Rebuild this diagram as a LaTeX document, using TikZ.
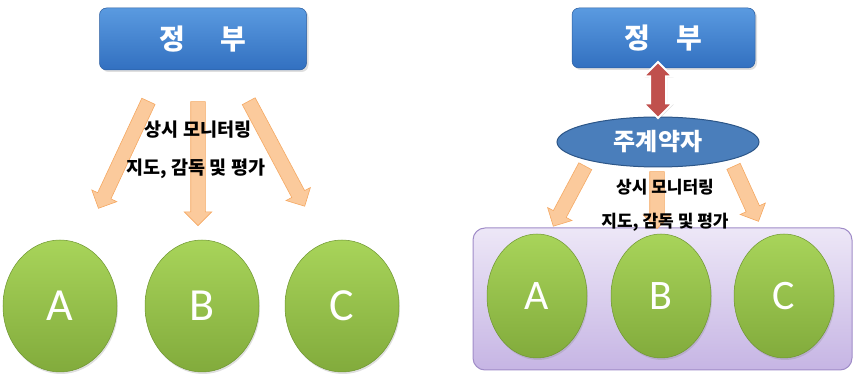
\documentclass[tikz,border=0pt]{standalone}
\usepackage{fontspec}
\newfontfamily\kr{Noto Sans CJK KR}
\newfontfamily\lat{Carlito}
\usetikzlibrary{shapes.arrows,shapes.geometric,shadows,calc}
\definecolor{blueT}{HTML}{5A9AE0}
\definecolor{blueB}{HTML}{3270C0}
\definecolor{blueD}{HTML}{2A5C9E}
\definecolor{ellF}{HTML}{4A7EBB}
\definecolor{ellD}{HTML}{2C5688}
\definecolor{gT}{HTML}{A8D45A}
\definecolor{gB}{HTML}{82AB3C}
\definecolor{gD}{HTML}{6E9630}
\definecolor{peachM}{HTML}{FBCA9C}
\definecolor{peachE}{HTML}{F5A862}
\definecolor{redA}{HTML}{C0504D}
\definecolor{purT}{HTML}{EDE7F7}
\definecolor{purB}{HTML}{C6B5E4}
\definecolor{purD}{HTML}{A08CC8}
\begin{document}
\begin{tikzpicture}[x=1pt,y=1pt,
  gov/.style={rectangle, rounded corners=7pt, minimum width=207pt, minimum height=62pt,
    top color=blueT, bottom color=blueB, draw=blueD, line width=0.5pt,
    drop shadow={opacity=0.25, shadow xshift=2pt, shadow yshift=-2pt},
    text=white, font=\kr\bfseries\fontsize{28}{30}\selectfont},
  ctr/.style={ellipse, minimum width=202pt, minimum height=50pt, inner sep=0pt,
    fill=ellF, draw=ellD, line width=1pt,
    text=white, font=\kr\bfseries\fontsize{24}{26}\selectfont},
  ball/.style={ellipse, minimum width=114pt, minimum height=132pt, inner sep=0pt,
    top color=gT, bottom color=gB, draw=gD, line width=0.5pt,
    drop shadow={opacity=0.25, shadow xshift=1pt, shadow yshift=-2pt},
    text=white, font=\lat\fontsize{46}{48}\selectfont},
  smallball/.style={ball, minimum width=100pt, minimum height=124pt,
    font=\lat\fontsize{42}{44}\selectfont},
  fatarr/.style={single arrow, single arrow head extend=6.5pt,
    inner xsep=0pt, inner ysep=7pt, fill=peachM, draw=peachE,
    line width=0.6pt, sloped, allow upside down, anchor=center},
  lbl/.style={font=\kr\bfseries\fontsize{18.5}{20}\selectfont, text=black, inner sep=0pt},
  rlbl/.style={font=\kr\bfseries\fontsize{17}{19}\selectfont, text=black, inner sep=0pt},
  dbl/.style={double arrow, double arrow head extend=6.5pt,
    minimum height=56pt, inner xsep=0pt, inner ysep=7pt, rotate=90, fill=redA, draw=white,
    line width=2pt, drop shadow={opacity=0.3, shadow xshift=1pt, shadow yshift=-1pt}},
  grp/.style={rectangle, rounded corners=12pt, top color=purT, bottom color=purB,
    draw=purD, line width=1pt, minimum width=379pt, minimum height=142pt}
]
\useasboundingbox (0,0) rectangle (855,375);

% ---------- left diagram ----------
\node[gov] (gov1) at (203,336) {정\hspace{36pt}부};

\node[ball] (A1) at (60,69) {A};
\node[ball] (B1) at (202,69) {B};
\node[ball] (C1) at (342,69) {C};

\coordinate (a1s) at (150,277); \coordinate (a1e) at (100,170);
\coordinate (a2s) at (198,277); \coordinate (a2e) at (198,153);
\coordinate (a3s) at (247,277); \coordinate (a3e) at (303,172);
\foreach \s/\e in {a1s/a1e,a2s/a2e,a3s/a3e}{
  \path let \p1=($(\e)-(\s)$), \n1={veclen(\x1,\y1)} in
    (\s) -- node[fatarr, minimum height=\n1] {} (\e);
}
\node[lbl] (l1a) at (198,245) {상시 모니터링};
\node[lbl] (l1b) at (196,206) {지도, 감독 및 평가};

% ---------- right diagram ----------
\node[grp] (grp) at (662.5,76) {};
\node[smallball] (A2) at (537,79) {A};
\node[smallball] (B2) at (661,79) {B};
\node[smallball] (C2) at (784,79) {C};

\coordinate (b1s) at (587,212); \coordinate (b1e) at (555,152);
\coordinate (b2s) at (657,207); \coordinate (b2e) at (657,150);
\coordinate (b3s) at (732,212); \coordinate (b3e) at (757,157);
\foreach \s/\e in {b1s/b1e,b2s/b2e,b3s/b3e}{
  \path let \p1=($(\e)-(\s)$), \n1={veclen(\x1,\y1)} in
    (\s) -- node[fatarr, minimum height=\n1] {} (\e);
}

\node[gov, minimum width=183pt, minimum height=60pt] (gov2) at (663.5,337) {정\hspace{26pt}부};
\node[ctr] (mc) at (658,233) {주계약자};
\node[dbl] (link) at (658,285) {};

\node[rlbl] (l2a) at (665,188) {상시 모니터링};
\node[rlbl] (l2b) at (665,153) {지도, 감독 및 평가};
\end{tikzpicture}
\end{document}
